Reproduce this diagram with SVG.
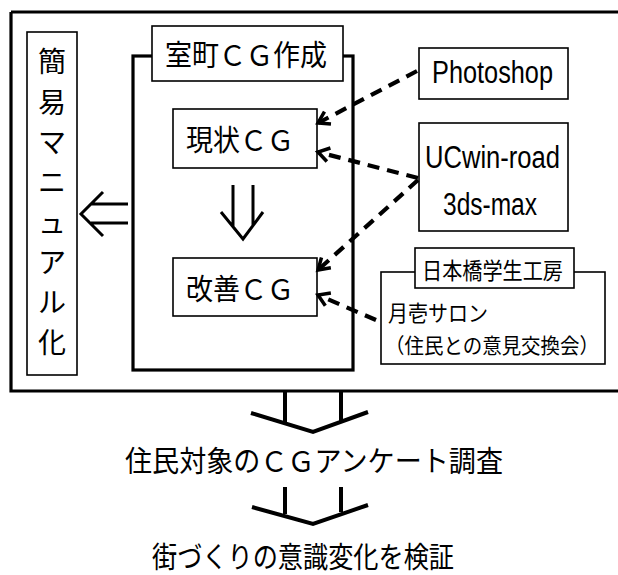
<svg xmlns="http://www.w3.org/2000/svg" width="618" height="575" viewBox="0 0 618 575">
<style>
.box{fill:#fff;stroke:#000;stroke-width:1.6}
.thick{fill:none;stroke:#000;stroke-width:3.2}
.arr{fill:none;stroke:#000;stroke-width:3}
.big{fill:none;stroke:#000;stroke-width:4}
.dash{fill:none;stroke:#000;stroke-width:4.2;stroke-dasharray:12 8;marker-end:url(#ah)}
.jp{font-family:"Noto Sans CJK JP","Liberation Sans",sans-serif;fill:#000}
.lat{font-family:"Liberation Sans","Noto Sans CJK JP",sans-serif;fill:#000}
</style>
<defs>
<marker id="ah" markerUnits="userSpaceOnUse" markerWidth="20" markerHeight="20" refX="13" refY="8" orient="auto" viewBox="0 0 20 16">
<path d="M2,1 L13,8 L2,15" fill="none" stroke="#000" stroke-width="3.5"/>
</marker>
</defs>
<rect width="618" height="575" fill="#fff"/>

<g id="frame">
<path class="thick" d="M11,12 H630 M11,12 V391 H630"/>
</g>

<g id="manual">
<rect class="box" x="27" y="32" width="50" height="343"/>
<g class="jp" font-size="28" text-anchor="middle">
<text x="52" y="72">簡</text>
<text x="52" y="113">易</text>
<text x="52" y="153">マ</text>
<text x="52" y="193">ニ</text>
<text x="52" y="233">ュ</text>
<text x="52" y="273">ア</text>
<text x="52" y="313">ル</text>
<text x="52" y="353">化</text>
</g>
</g>

<g id="muromachi">
<rect class="thick" x="133" y="56" width="220" height="314"/>
<rect class="box" x="152" y="26" width="191" height="55"/>
<text class="jp" x="165" y="66" font-size="29" textLength="162" lengthAdjust="spacingAndGlyphs">室町ＣＧ作成</text>
</g>

<g id="genjo">
<rect class="box" x="173" y="109" width="144" height="59"/>
<text class="jp" x="186" y="151" font-size="29" textLength="108" lengthAdjust="spacingAndGlyphs">現状ＣＧ</text>
</g>

<g id="kaizen">
<rect class="box" x="173" y="258" width="144" height="58"/>
<text class="jp" x="186" y="300" font-size="29" textLength="108" lengthAdjust="spacingAndGlyphs">改善ＣＧ</text>
</g>

<g id="photoshop">
<rect class="box" x="419" y="48" width="149" height="51"/>
<text class="lat" x="432" y="83" font-size="31" textLength="121" lengthAdjust="spacingAndGlyphs">Photoshop</text>
</g>

<g id="ucwin">
<rect class="box" x="419" y="123" width="149" height="108"/>
<text class="lat" x="425" y="168" font-size="31" textLength="135" lengthAdjust="spacingAndGlyphs">UCwin-road</text>
<text class="lat" x="443" y="215" font-size="31" textLength="94" lengthAdjust="spacingAndGlyphs">3ds-max</text>
</g>

<g id="salon">
<rect class="box" x="381" y="272" width="224" height="92"/>
<rect class="box" x="415" y="248" width="159" height="40"/>
<text class="jp" x="422" y="279" font-size="23" textLength="141" lengthAdjust="spacingAndGlyphs">日本橋学生工房</text>
<text class="jp" x="388" y="321" font-size="22" textLength="100" lengthAdjust="spacingAndGlyphs">月壱サロン</text>
<text class="jp" x="385" y="353" font-size="21" textLength="214" lengthAdjust="spacingAndGlyphs">（住民との意見交換会）</text>
</g>

<g id="survey">
<text class="jp" x="125" y="472" font-size="29" textLength="378" lengthAdjust="spacingAndGlyphs">住民対象のＣＧアンケート調査</text>
</g>

<g id="verify">
<text class="jp" x="152" y="568" font-size="29" textLength="302" lengthAdjust="spacingAndGlyphs">街づくりの意識変化を検証</text>
</g>

<g id="connectors">
<path class="dash" d="M417,71 L318,123"/>
<path class="dash" d="M418,178 L318,152"/>
<path class="dash" d="M418,180 L318,270"/>
<path class="dash" d="M376,320 L318,295"/>
<path class="arr" d="M233,185 V227 M253,185 V226 M221,212 L243,239 L263,212"/>
<path class="arr" d="M128,204 H91 M128,223 H91 M103,192 L81,214 L103,236"/>
<path class="big" d="M285,391 V423 M341,391 V422 M251,413 L313,432 L368,412"/>
<path class="big" d="M285,487 V514 M341,487 V512 M252,507 L313,524 L368,505"/>
</g>
</svg>
